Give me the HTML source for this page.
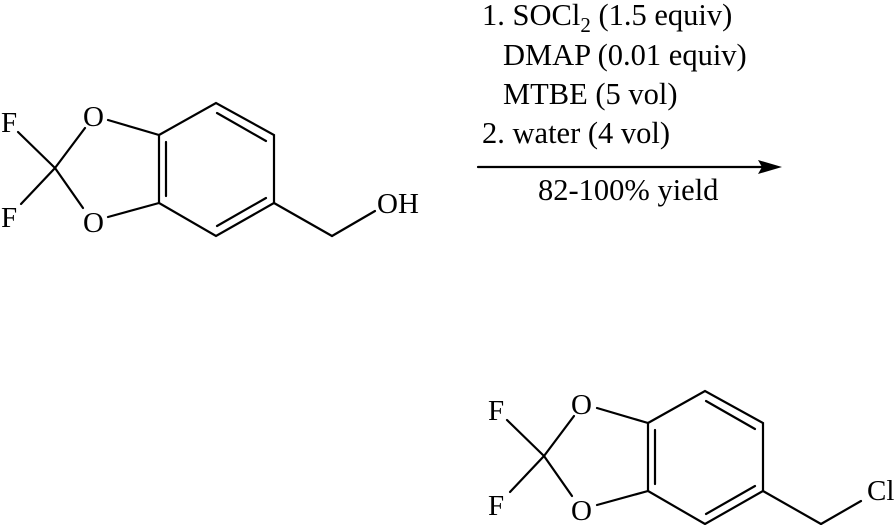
<!DOCTYPE html>
<html><head><style>html,body{margin:0;padding:0;background:#fff}svg{display:block}</style></head>
<body>
<svg width="896" height="525" viewBox="0 0 896 525" xmlns="http://www.w3.org/2000/svg">
<g stroke="#000" stroke-width="2.2" fill="none" stroke-linecap="round">
<g id="m1">
<line x1="55" y1="168" x2="85" y2="128"/>
<line x1="55" y1="168" x2="83" y2="208"/>
<line x1="55" y1="168" x2="18" y2="132"/>
<line x1="55" y1="168" x2="21" y2="204"/>
<line x1="108" y1="120" x2="159" y2="135"/>
<line x1="108" y1="217" x2="159" y2="203"/>
<polygon points="159,135 216,103 274,135 274,203 216,236 159,203"/>
<line x1="166" y1="142" x2="166" y2="196"/>
<line x1="217" y1="113" x2="266" y2="141"/>
<line x1="266" y1="198" x2="217" y2="226"/>
</g>
<line x1="274" y1="203" x2="332" y2="236"/>
<line x1="332" y1="236" x2="375" y2="211"/>
<g transform="translate(489,288)">
<line x1="55" y1="168" x2="85" y2="128"/>
<line x1="55" y1="168" x2="83" y2="208"/>
<line x1="55" y1="168" x2="18" y2="132"/>
<line x1="55" y1="168" x2="21" y2="204"/>
<line x1="108" y1="120" x2="159" y2="135"/>
<line x1="108" y1="217" x2="159" y2="203"/>
<polygon points="159,135 216,103 274,135 274,203 216,236 159,203"/>
<line x1="166" y1="142" x2="166" y2="196"/>
<line x1="217" y1="113" x2="266" y2="141"/>
<line x1="266" y1="198" x2="217" y2="226"/>
<line x1="274" y1="203" x2="332" y2="236"/>
<line x1="332" y1="236" x2="372" y2="213"/>
</g>
<line x1="478" y1="167" x2="765" y2="167"/>
</g>
<polygon points="782,167 758,160 762,167 758,174" fill="#000"/>
<g font-family="Liberation Serif, serif" font-size="29" fill="#000">
<text x="1" y="132">F</text>
<text x="1" y="227">F</text>
<text x="83" y="126">O</text>
<text x="83" y="232">O</text>
<text x="377" y="213">OH</text>
<g transform="translate(489,288)">
<text x="-1" y="132">F</text>
<text x="-1" y="227">F</text>
<text x="82" y="126">O</text>
<text x="82" y="232">O</text>
</g>
<text x="867" y="500">Cl</text>
</g>
<g font-family="Liberation Serif, serif" font-size="30.5" fill="#000">
<text x="482" y="25">1. SOCl<tspan font-size="21" dy="7">2</tspan><tspan dy="-7"> (1.5 equiv)</tspan></text>
<text x="503" y="65">DMAP (0.01 equiv)</text>
<text x="503" y="104">MTBE (5 vol)</text>
<text x="482" y="143">2. water (4 vol)</text>
<text x="538" y="200">82-100% yield</text>
</g>
</svg>
</body></html>
